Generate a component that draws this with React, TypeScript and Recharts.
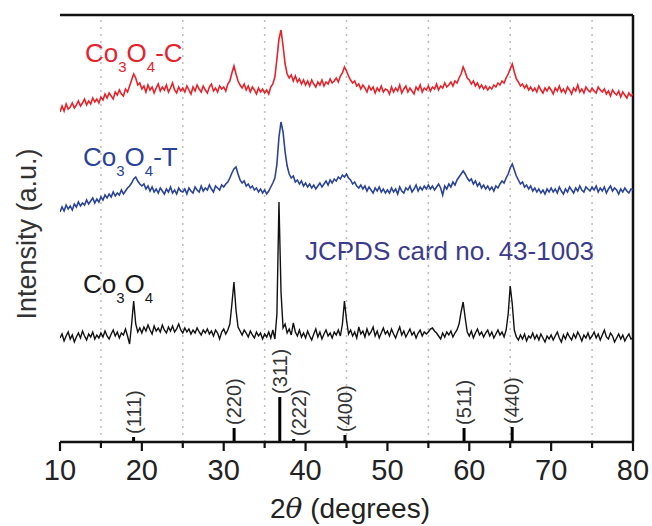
import React from "react";
import {
  ComposedChart,
  Line,
  XAxis,
  YAxis,
  ReferenceLine,
  Scatter,
  Customized,
} from "recharts";

const FONT = '"Liberation Sans", Arial, sans-serif';

// 2θ sampling of the traces: 10° to 80° every 0.25°
const X_START = 10;
const X_STEP = 0.25;

// intensities (a.u., curves stacked with their own offsets)
const RED = [
  330, 336, 331, 338, 333, 335, 339, 334, 337, 341, 336, 339, 343, 337, 341, 338, 344, 340, 343, 339,
  345, 342, 348, 344, 349, 346, 343, 350, 347, 352, 348, 346, 353, 350, 356, 362, 368, 364, 357, 359,
  353, 356, 350, 357, 352, 355, 349, 354, 358, 351, 355, 352, 357, 350, 354, 359, 352, 349, 355, 351,
  354, 350, 356, 352, 348, 355, 351, 357, 353, 350, 356, 352, 349, 355, 358, 351, 354, 350, 356, 353,
  355, 351, 358, 361, 369, 376, 368, 361, 357, 354, 358, 352, 356, 350, 355, 352, 348, 354, 350, 353,
  349, 352, 348, 355, 358, 365, 383, 403, 412, 396, 378, 368, 364, 367, 361, 366, 360, 363, 358, 362,
  357, 361, 356, 362, 358, 355, 360, 357, 362, 356, 360, 358, 363, 359, 361, 364, 360, 366, 369, 375,
  371, 366, 362, 359, 361, 356, 358, 353, 357, 354, 350, 356, 352, 355, 349, 354, 351, 356, 350, 353,
  352, 348, 355, 350, 354, 351, 357, 349, 353, 356, 350, 354, 351, 348, 355, 352, 357, 350, 354, 352,
  356, 351, 355, 353, 358, 352, 356, 354, 359, 355, 357, 360, 356, 361, 359, 364, 368, 375, 370, 364,
  362, 358, 361, 356, 359, 354, 357, 353, 356, 352, 355, 353, 357, 355, 359, 357, 361, 359, 364, 368,
  373, 378, 370, 363, 360, 356, 358, 354, 357, 352, 355, 351, 354, 350, 356, 352, 349, 354, 351, 355,
  352, 348, 354, 351, 356, 350, 353, 349, 355, 352, 348, 354, 351, 357, 350, 353, 349, 355, 352, 350,
  354, 351, 349, 355, 352, 350, 353, 348, 351, 346, 352, 349, 347, 351, 345, 350, 347, 344, 349, 346,
  348,
];

const BLUE = [
  230, 235, 231, 237, 233, 236, 232, 238, 235, 240, 236, 239, 237, 242, 238, 241, 244, 239, 243, 240,
  245, 242, 247, 244, 248, 245, 250, 246, 249, 247, 252, 248, 251, 254, 256, 259, 263, 265, 261, 258,
  256, 258, 253, 256, 251, 255, 250, 253, 249, 254, 251, 248, 253, 250, 255, 249, 252, 248, 254, 251,
  250, 253, 248, 254, 251, 249, 255, 252, 250, 256, 251, 254, 252, 257, 253, 250, 256, 254, 252, 257,
  255, 258, 260, 264, 269, 273, 275, 268, 262, 259, 261, 256, 258, 254, 256, 252, 254, 250, 253, 249,
  252, 248, 251, 255, 259, 264, 278, 305, 320, 310, 290, 276, 268, 264, 266, 260, 262, 258, 261, 256,
  259, 255, 258, 254, 257, 253, 256, 259, 255, 258, 261, 257, 262, 259, 263, 261, 265, 263, 267, 265,
  268, 264, 262, 258, 260, 256, 254, 257, 253, 256, 251, 255, 252, 249, 254, 251, 255, 250, 253, 249,
  252, 249, 254, 250, 253, 248, 255, 251, 249, 254, 252, 256, 250, 253, 257, 251, 255, 252, 256, 253,
  257, 253, 256, 252, 255, 258, 254, 247, 256, 253, 258, 255, 260, 257, 262, 265, 268, 271, 268, 264,
  261, 263, 258, 261, 256, 259, 254, 257, 253, 256, 252, 255, 251, 256, 254, 258, 261, 259, 264, 268,
  274, 278, 272, 266, 262, 258, 260, 255, 257, 253, 256, 251, 254, 250, 253, 249, 252, 248, 253, 250,
  254, 250, 253, 249, 255, 251, 248, 253, 250, 255, 252, 249, 254, 251, 256, 252, 250, 255, 253, 251,
  255, 252, 256, 250, 254, 251, 255, 249, 253, 256, 251, 254, 252, 248, 253, 250, 254, 251, 249, 253,
  252,
];

const BLACK = [
  104, 108, 101, 106, 110, 103, 107, 100, 105, 109, 104, 111, 106, 102, 108, 105, 110, 103, 107, 104,
  109, 105, 111, 106, 103, 108, 112, 106, 110, 104, 109, 107, 113, 106, 98, 118, 141, 118, 110, 114,
  109, 115, 111, 117, 112, 108, 116, 111, 114, 110, 117, 112, 109, 115, 111, 116, 110, 113, 118, 112,
  109, 114, 110, 113, 108, 112, 109, 114, 110, 107, 112, 109, 113, 108, 111, 106, 112, 109, 103, 110,
  113, 108, 112, 118, 138, 160, 132, 115, 111, 107, 112, 109, 105, 111, 107, 104, 110, 106, 109, 103,
  108, 105, 110, 104, 112, 103, 128, 240, 150, 114, 118, 109, 113, 107, 119, 110, 106, 112, 105, 109,
  104, 111, 106, 102, 108, 113, 105, 110, 103, 108, 112, 106, 109, 104, 110, 107, 112, 106, 118, 141,
  122, 108, 112, 106, 110, 104, 115, 108, 111, 105, 113, 107, 110, 115, 106, 111, 104, 109, 114, 108,
  111, 106, 113, 108, 104, 110, 115, 107, 111, 105, 109, 113, 107, 110, 104, 109, 112, 106, 110, 108,
  110, 113, 114, 111, 109, 106, 103, 109, 105, 110, 107, 111, 105, 109, 112, 118, 130, 140, 124, 110,
  106, 111, 104, 109, 113, 107, 110, 105, 109, 112, 106, 110, 104, 108, 112, 107, 110, 105, 112, 128,
  156, 138, 112, 105, 102, 107, 103, 108, 101, 106, 104, 109, 103, 107, 102, 108, 104, 100, 106, 103,
  107, 102, 106, 110, 104, 100, 107, 103, 109, 105, 102, 108, 104, 110, 106, 101, 107, 104, 109, 103,
  106, 110, 104, 108, 102, 107, 112, 105, 103, 109, 106, 100, 104, 108, 103, 107, 101, 105, 108, 103,
  104,
];

// JCPDS 43-1003 reference lines
const REF_POS = [18.99, 31.27, 36.85, 38.55, 44.81, 59.36, 65.24];
const REF_H = [5, 14, 45, 3, 7, 14, 15];
const REF_HKL = ["(111)", "(220)", "(311)", "(222)", "(400)", "(511)", "(440)"];

const X_TICKS = [10, 15, 20, 25, 30, 35, 40, 45, 50, 55, 60, 65, 70, 75, 80];
const GRID_X = [15, 25, 35, 45, 55, 65, 75];
const X_DOMAIN = [10, 80];
const Y_DOMAIN = [0, 427];

const data = RED.map((r, i) => ({
  x: X_START + i * X_STEP,
  red: r,
  blue: BLUE[i],
  black: BLACK[i],
}));

const refs = REF_POS.map((x, i) => ({ x, h: REF_H[i], hkl: REF_HKL[i] }));

function XTick(props: any) {
  const { x, y, payload } = props;
  const major = payload.value % 10 === 0;
  return (
    <g>
      <line x1={x} x2={x} y1={y} y2={y + (major ? 9 : 6)} stroke="#111" strokeWidth={2.2} />
      {major && (
        <text x={x} y={y + 38} textAnchor="middle" fontSize={29} fill="#222" fontFamily={FONT}>
          {payload.value}
        </text>
      )}
    </g>
  );
}

function HklLabel(props: any) {
  const { cx, cy, payload } = props;
  const x = cx + (payload.hkl === "(222)" ? 5 : 0);
  const y = cy - 3;
  return (
    <text
      x={x}
      y={y}
      transform={`rotate(-90 ${x} ${y})`}
      fontSize={20}
      fill="#333"
      fontFamily={FONT}
      dominantBaseline="central"
    >
      {payload.hkl}
    </text>
  );
}

function CoLabel({ x, y, color, suffix }: { x: number; y: number; color: string; suffix: string }) {
  return (
    <text x={x} y={y} fontSize={26} fill={color} fontFamily={FONT}>
      <tspan>Co</tspan>
      <tspan dy={10} fontSize={15}>3</tspan>
      <tspan dy={-10}>O</tspan>
      <tspan dy={10} fontSize={15}>4</tspan>
      <tspan dy={-10}>{suffix}</tspan>
    </text>
  );
}

function Annotations() {
  return (
    <g>
      <CoLabel x={85} y={62} color="#e5232b" suffix="-C" />
      <CoLabel x={83} y={166} color="#2a4398" suffix="-T" />
      <CoLabel x={83} y={293} color="#1a1a1a" suffix="" />
      <text x={305} y={260} fontSize={26} fill="#3b3b8c" fontFamily={FONT}>
        JCPDS card no. 43-1003
      </text>
      <text
        x={27}
        y={234}
        transform="rotate(-90 27 234)"
        textAnchor="middle"
        dominantBaseline="central"
        fontSize={27}
        fill="#333"
        fontFamily={FONT}
      >
        Intensity (a.u.)
      </text>
      <text x={350} y={518} textAnchor="middle" fontSize={28} fill="#222" fontFamily={FONT}>
        2<tspan fontStyle="italic" fontFamily='"DejaVu Serif", serif'>θ</tspan> (degrees)
      </text>
    </g>
  );
}

export default function App() {
  return (
    <div style={{ position: "absolute", left: 0, top: 0, width: 652, height: 526, background: "#fff" }}>
      <ComposedChart
        width={652}
        height={526}
        data={data}
        margin={{ top: 15, right: 19, left: 60, bottom: 0 }}
      >
        <XAxis
          dataKey="x"
          type="number"
          domain={X_DOMAIN}
          ticks={X_TICKS}
          interval={0}
          height={84}
          tickSize={0}
          tickMargin={0}
          tickLine={false}
          tick={<XTick />}
          axisLine={{ stroke: "#111", strokeWidth: 2.5 }}
          allowDataOverflow
        />
        <YAxis
          type="number"
          domain={Y_DOMAIN}
          width={0}
          tick={false}
          tickLine={false}
          axisLine={{ stroke: "#111", strokeWidth: 2.5 }}
          allowDataOverflow
        />
        {GRID_X.map((g) => (
          <ReferenceLine key={g} x={g} stroke="#bdbdbd" strokeWidth={1.5} strokeDasharray="2 5" />
        ))}
        {/* top and right edges of the frame */}
        <ReferenceLine y={Y_DOMAIN[1]} stroke="#111" strokeWidth={2.5} />
        <ReferenceLine x={X_DOMAIN[1]} stroke="#111" strokeWidth={2.5} />
        {refs.map((r) => (
          <ReferenceLine
            key={r.hkl}
            segment={[
              { x: r.x, y: 0 },
              { x: r.x, y: r.h },
            ]}
            stroke="#000"
            strokeWidth={3}
          />
        ))}
        <Line dataKey="red" stroke="#e5232b" strokeWidth={1.6} dot={false} isAnimationActive={false} />
        <Line dataKey="blue" stroke="#2a4398" strokeWidth={1.6} dot={false} isAnimationActive={false} />
        <Line dataKey="black" stroke="#111" strokeWidth={1.4} dot={false} isAnimationActive={false} />
        <Scatter data={refs} dataKey="h" shape={<HklLabel />} isAnimationActive={false} />
        <Customized component={Annotations} />
      </ComposedChart>
    </div>
  );
}
